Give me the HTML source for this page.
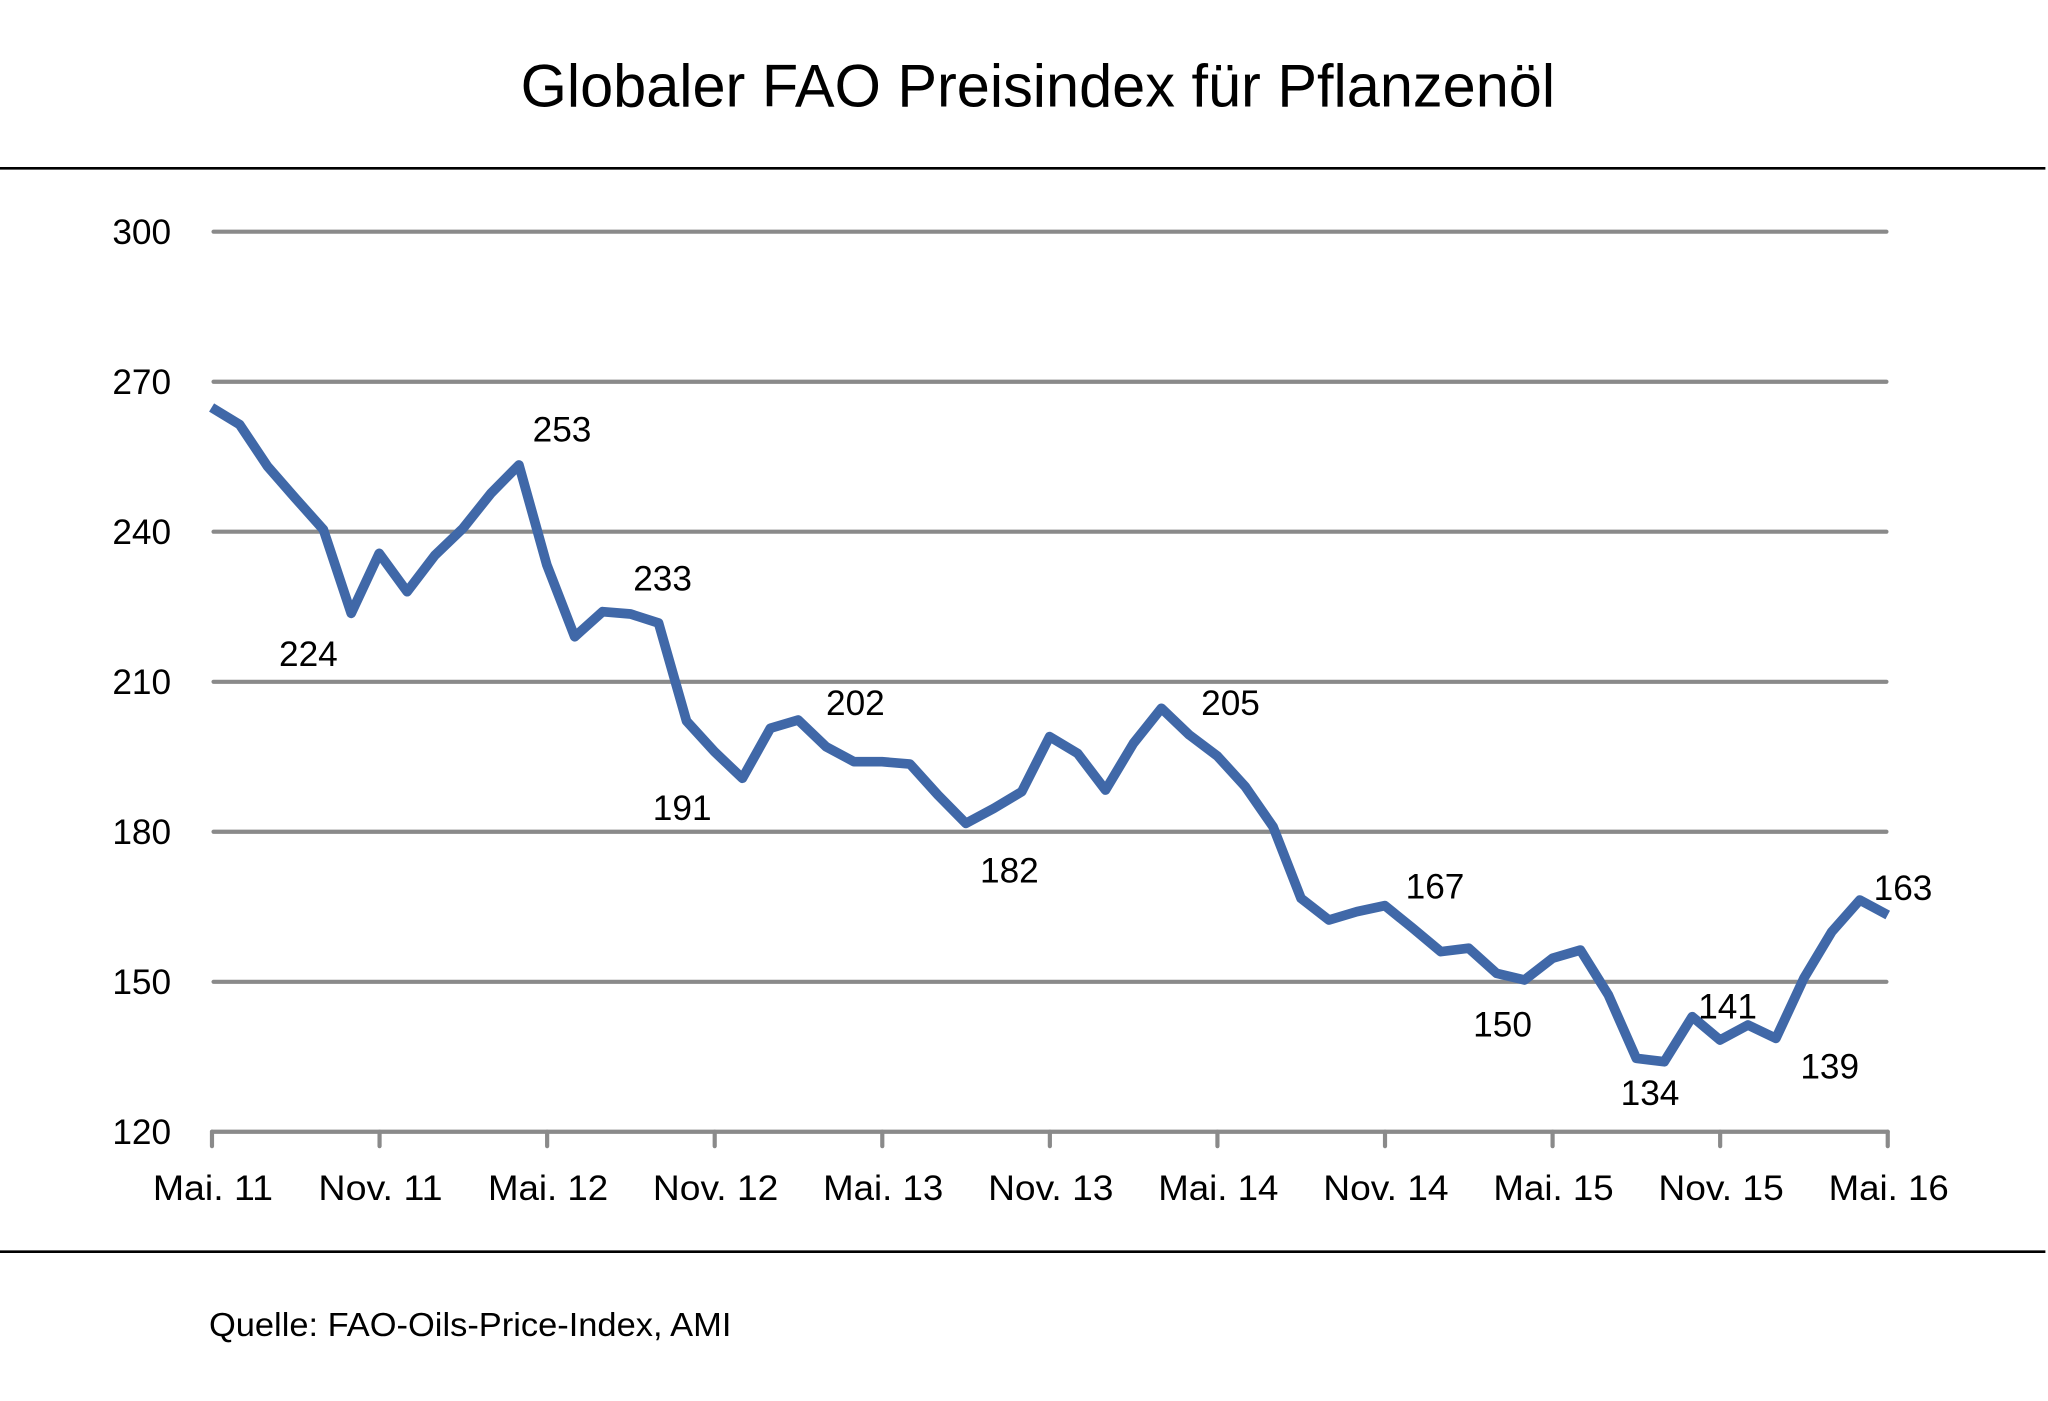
<!DOCTYPE html>
<html>
<head>
<meta charset="utf-8">
<style>
  html, body { margin:0; padding:0; background:#ffffff; }
  svg { display:block; }
  text { font-family: "Liberation Sans", "DejaVu Sans", sans-serif; fill:#000; }
</style>
</head>
<body>
<svg width="2048" height="1401" viewBox="0 0 1568 1072.66" preserveAspectRatio="none" xmlns="http://www.w3.org/2000/svg">
  <rect x="0" y="0" width="1568" height="1072.66" fill="#ffffff"/>

  <!-- Title -->
  <text x="398.6" y="81.7" font-size="46" textLength="792" lengthAdjust="spacingAndGlyphs">Globaler FAO Preisindex für Pflanzenöl</text>

  <!-- Rules -->
  <line x1="0" y1="128.9" x2="1566" y2="128.9" stroke="#000" stroke-width="2"/>
  <line x1="0" y1="958.3" x2="1566" y2="958.3" stroke="#000" stroke-width="2"/>

  <!-- Gridlines -->
  <g stroke="#8a8a8a" stroke-width="3.2" stroke-linecap="round">
    <line x1="163.5" y1="177.4" x2="1444.3" y2="177.4"/>
    <line x1="163.5" y1="292.3" x2="1444.3" y2="292.3"/>
    <line x1="163.5" y1="407.1" x2="1444.3" y2="407.1"/>
    <line x1="163.5" y1="522.0" x2="1444.3" y2="522.0"/>
    <line x1="163.5" y1="636.8" x2="1444.3" y2="636.8"/>
    <line x1="163.5" y1="751.7" x2="1444.3" y2="751.7"/>
  </g>

  <!-- X axis -->
  <g stroke="#8a8a8a" stroke-width="3.2" stroke-linecap="round" fill="none">
    <line x1="162.3" y1="866.5" x2="1445.3" y2="866.5"/>
    <line x1="162.3" y1="866.5" x2="162.3" y2="877.5"/>
    <line x1="290.6" y1="866.5" x2="290.6" y2="877.5"/>
    <line x1="418.9" y1="866.5" x2="418.9" y2="877.5"/>
    <line x1="547.2" y1="866.5" x2="547.2" y2="877.5"/>
    <line x1="675.5" y1="866.5" x2="675.5" y2="877.5"/>
    <line x1="803.8" y1="866.5" x2="803.8" y2="877.5"/>
    <line x1="932.1" y1="866.5" x2="932.1" y2="877.5"/>
    <line x1="1060.4" y1="866.5" x2="1060.4" y2="877.5"/>
    <line x1="1188.7" y1="866.5" x2="1188.7" y2="877.5"/>
    <line x1="1317.0" y1="866.5" x2="1317.0" y2="877.5"/>
    <line x1="1445.3" y1="866.5" x2="1445.3" y2="877.5"/>
  </g>

  <!-- Y labels -->
  <g font-size="27" text-anchor="end">
    <text x="131" y="186.9" textLength="45" lengthAdjust="spacingAndGlyphs">300</text>
    <text x="131" y="301.8" textLength="45" lengthAdjust="spacingAndGlyphs">270</text>
    <text x="131" y="416.6" textLength="45" lengthAdjust="spacingAndGlyphs">240</text>
    <text x="131" y="531.5" textLength="45" lengthAdjust="spacingAndGlyphs">210</text>
    <text x="131" y="646.3" textLength="45" lengthAdjust="spacingAndGlyphs">180</text>
    <text x="131" y="761.2" textLength="45" lengthAdjust="spacingAndGlyphs">150</text>
    <text x="131" y="876.0" textLength="45" lengthAdjust="spacingAndGlyphs">120</text>
  </g>

  <!-- X labels -->
  <g font-size="27" text-anchor="middle">
    <text x="163" y="918.8" textLength="92" lengthAdjust="spacingAndGlyphs">Mai. 11</text>
    <text x="291.3" y="918.8" textLength="95" lengthAdjust="spacingAndGlyphs">Nov. 11</text>
    <text x="419.6" y="918.8" textLength="92" lengthAdjust="spacingAndGlyphs">Mai. 12</text>
    <text x="547.9" y="918.8" textLength="96" lengthAdjust="spacingAndGlyphs">Nov. 12</text>
    <text x="676.2" y="918.8" textLength="92" lengthAdjust="spacingAndGlyphs">Mai. 13</text>
    <text x="804.5" y="918.8" textLength="96" lengthAdjust="spacingAndGlyphs">Nov. 13</text>
    <text x="932.8" y="918.8" textLength="92" lengthAdjust="spacingAndGlyphs">Mai. 14</text>
    <text x="1061.1" y="918.8" textLength="96" lengthAdjust="spacingAndGlyphs">Nov. 14</text>
    <text x="1189.4" y="918.8" textLength="92" lengthAdjust="spacingAndGlyphs">Mai. 15</text>
    <text x="1317.7" y="918.8" textLength="96" lengthAdjust="spacingAndGlyphs">Nov. 15</text>
    <text x="1446" y="918.8" textLength="92" lengthAdjust="spacingAndGlyphs">Mai. 16</text>
  </g>

  <!-- Data line -->
  <polyline fill="none" stroke="#4068A8" stroke-width="7.4" stroke-linejoin="round" stroke-linecap="butt"
    points="162.0,312 183.4,325 204.8,357 226.2,381.5 247.6,405.5 268.9,469.6 290.3,423.7 311.7,453 333.1,425 354.5,404.5 375.9,377.7 397.3,356 418.7,432.6 440.0,487.5 461.4,468.3 482.8,470.1 504.2,477 525.6,552 547.0,575.5 568.4,595.9 589.8,557.6 611.1,551.3 632.5,571.7 653.9,583.2 675.3,583.2 696.7,585 718.1,608.7 739.5,630.4 760.9,618.9 782.3,606.1 803.6,564 825.0,576.8 846.4,604.9 867.8,569.1 889.2,542.3 910.6,562.7 932.0,578.8 953.4,602.3 974.7,633 996.1,687.8 1017.5,704.4 1038.9,698 1060.3,693.4 1081.7,710.7 1103.1,728.6 1124.5,726 1145.8,745.2 1167.2,750.3 1188.6,733.7 1210.0,727.4 1231.4,761.8 1252.8,810.3 1274.2,812.9 1295.6,778.4 1316.9,796.3 1338.3,784.8 1359.7,795 1381.1,749 1402.5,713.3 1423.9,689.1 1445.3,700.6"/>

  <!-- Data labels -->
  <g font-size="27" text-anchor="middle">
    <text x="430.3" y="338.2" textLength="45" lengthAdjust="spacingAndGlyphs">253</text>
    <text x="236.1" y="509.9" textLength="45" lengthAdjust="spacingAndGlyphs">224</text>
    <text x="507.3" y="452.2" textLength="45" lengthAdjust="spacingAndGlyphs">233</text>
    <text x="654.9" y="547.4" textLength="45" lengthAdjust="spacingAndGlyphs">202</text>
    <text x="522.3" y="627.8" textLength="45" lengthAdjust="spacingAndGlyphs">191</text>
    <text x="772.8" y="675.8" textLength="45" lengthAdjust="spacingAndGlyphs">182</text>
    <text x="942.1" y="547.4" textLength="45" lengthAdjust="spacingAndGlyphs">205</text>
    <text x="1098.7" y="687.8" textLength="45" lengthAdjust="spacingAndGlyphs">167</text>
    <text x="1150.4" y="793.7" textLength="45" lengthAdjust="spacingAndGlyphs">150</text>
    <text x="1457" y="689.1" textLength="45" lengthAdjust="spacingAndGlyphs">163</text>
    <text x="1322.7" y="779.7" textLength="45" lengthAdjust="spacingAndGlyphs">141</text>
    <text x="1263.3" y="846" textLength="45" lengthAdjust="spacingAndGlyphs">134</text>
    <text x="1400.9" y="825.6" textLength="45" lengthAdjust="spacingAndGlyphs">139</text>
  </g>

  <!-- Source -->
  <text x="160" y="1023" font-size="25.5" textLength="400" lengthAdjust="spacingAndGlyphs">Quelle: FAO-Oils-Price-Index, AMI</text>
</svg>
</body>
</html>
